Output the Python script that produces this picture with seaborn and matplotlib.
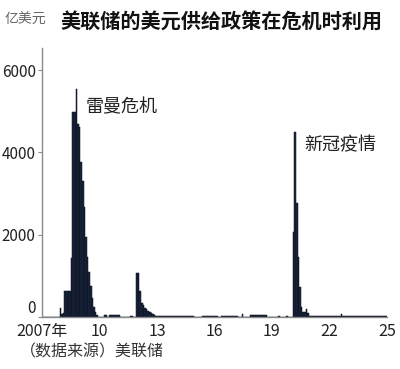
import numpy as np
import pandas as pd
import matplotlib
matplotlib.use("Agg")
import matplotlib.pyplot as plt
import seaborn as sns

# Monthly values (亿美元), Jan 2007 .. Jan 2025, one row per year
v2007 = [0, 0, 0, 0, 0, 0, 0, 0, 0, 0, 0, 220]
v2008 = [80, 100, 620, 620, 620, 620, 1430, 4980, 4980, 5540, 4700, 4620]
v2009 = [3775, 3300, 2680, 1950, 1450, 1100, 750, 450, 250, 120, 40, 0]
v2010 = [0, 0, 0, 40, 40, 0, 40, 40, 40, 40, 40, 40]
v2011 = [40, 0, 0, 0, 0, 0, 0, 20, 20, 0, 0, 1080]
v2012 = [1080, 640, 340, 300, 230, 190, 150, 120, 100, 80, 60, 35]
v2013 = [35, 35, 35, 35, 35, 35, 35, 35, 35, 35, 35, 35]
v2014 = [35, 35, 35, 35, 35, 35, 35, 20, 20, 20, 20, 0]
v2015 = [0, 0, 0, 0, 30, 30, 30, 30, 30, 30, 30, 30]
v2016 = [30, 30, 0, 0, 30, 30, 30, 30, 30, 30, 30, 30]
v2017 = [30, 30, 30, 0, 0, 80, 0, 0, 0, 0, 50, 50]
v2018 = [50, 50, 50, 50, 50, 50, 50, 50, 50, 0, 0, 0]
v2019 = [0, 0, 0, 0, 20, 0, 0, 0, 0, 20, 0, 0]
v2020 = [0, 2070, 4500, 2770, 1465, 735, 250, 130, 130, 200, 100, 35]
v2021 = [35, 35, 35, 35, 35, 35, 35, 35, 35, 35, 35, 35]
v2022 = [35, 35, 35, 35, 35, 35, 35, 80, 35, 35, 35, 35]
v2023 = [30, 30, 30, 30, 30, 30, 30, 30, 30, 30, 30, 30]
v2024 = [30, 30, 30, 30, 30, 30, 30, 30, 30, 30, 30, 30]
v2025 = [30]

tick_labels = ["2007年", "10", "13", "16", "19", "22", "25"]
title = "美联储的美元供给政策在危机时利用"
unit = "亿美元"
source = "（数据来源）美联储"
annot1 = "雷曼危机"
annot2 = "新冠疫情"

values = (v2007 + v2008 + v2009 + v2010 + v2011 + v2012 + v2013 + v2014 + v2015
          + v2016 + v2017 + v2018 + v2019 + v2020 + v2021 + v2022 + v2023 + v2024 + v2025)
df = pd.DataFrame({"month": np.arange(len(values)) + 0.5, "value": values})

sns.set_theme(style="white")
plt.rcParams["font.family"] = ["Noto Sans CJK SC", "DejaVu Sans"]

fig = plt.figure(figsize=(4.0, 3.69), dpi=100)
ax = fig.add_axes([0.105, 0.141, 0.8625, 0.729])

sns.histplot(data=df, x="month", weights="value", binwidth=1,
             binrange=(0, len(values)),
             color="#1b2841", edgecolor="#0a0f1a", linewidth=0.35, alpha=1.0, ax=ax)

ax.set_xlim(0, 216)
ax.set_ylim(0, 6540)
ax.set_xticks(np.arange(0, 217, 36))
ax.set_xticklabels(tick_labels)
ax.set_yticks([0, 2000, 4000, 6000])
ax.set_yticklabels(["0", "2000", "4000", "6000"])
ax.set_xlabel("")
ax.set_ylabel("")

for s in ["top", "right"]:
    ax.spines[s].set_visible(False)
for s in ["left", "bottom"]:
    ax.spines[s].set_color("#8a8a8a")
    ax.spines[s].set_linewidth(1.0)

ax.tick_params(axis="y", length=3, width=0.8, color="#8a8a8a", pad=1.5,
               labelsize=11, labelcolor="#222222", left=True)
ax.tick_params(axis="x", length=0, pad=4, labelsize=11.5, labelcolor="#222222")
# lift the "0" label slightly so it sits above the baseline like the reference
for lbl in ax.get_yticklabels():
    if lbl.get_text() == "0":
        lbl.set_verticalalignment("bottom")

ax.text(27.5, 5100, annot1, fontsize=13, color="#222222", va="center", ha="left")
ax.text(164.5, 4180, annot2, fontsize=13, color="#222222", va="center", ha="left")

fig.text(5 / 400, 1 - 20 / 369, unit, fontsize=10, color="#666666", va="center", ha="left")
fig.text(60 / 400, 1 - 22 / 369, title, fontsize=14.5, fontweight="bold",
         color="#111111", va="center", ha="left")
fig.text(20 / 400, 1 - 352 / 369, source, fontsize=11.5, color="#333333",
         va="center", ha="left")

fig.savefig("out.png", dpi=100, facecolor="white")
